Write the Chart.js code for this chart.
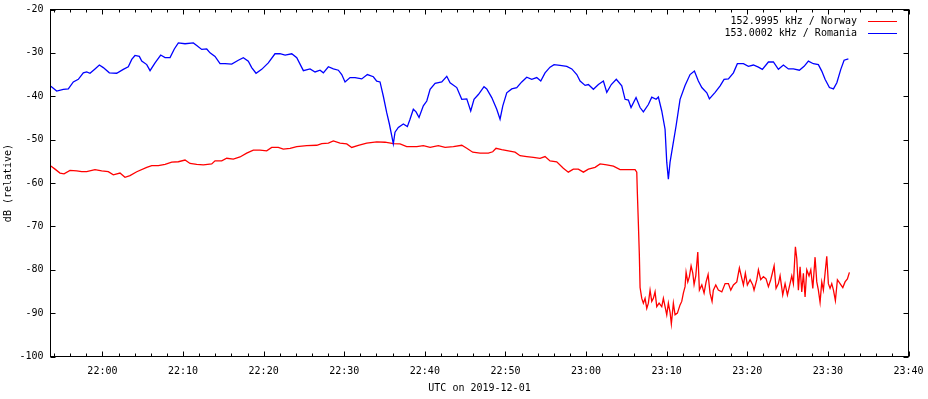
<!DOCTYPE html>
<html>
<head>
<meta charset="utf-8">
<script src="https://cdn.jsdelivr.net/npm/chart.js@4.4.1/dist/chart.umd.min.js"></script>
<style>
  html, body { margin: 0; padding: 0; background: #fff; }
  canvas { display: block; }
</style>
</head>
<body>
<canvas id="signal" width="928" height="399"></canvas>
<script>
// minutes after 22:00 UTC, dB (relative)
const norwayMin = [-6.4, -5.88, -5.26, -4.76, -4.02, -3.19, -2.57, -1.95, -0.92, -0.09, 0.73, 1.35, 2.18, 2.8, 3.42, 4.26, 5.5, 6.12, 6.94, 7.77,
  8.6, 9.42, 10.25, 10.87, 11.7, 12.52, 13.56, 13.97, 14.8, 15.42, 16.24, 17.07, 17.9, 18.72, 19.55, 20.38, 21.0, 21.82, 22.44, 23.28,
  24.11, 25.35, 26.59, 27.21, 28.03, 28.65, 29.48, 30.31, 30.93, 31.75, 32.79, 34.03, 35.06, 36.09, 36.92, 37.75, 39.0, 39.81, 40.65, 41.67,
  42.51, 43.54, 44.58, 45.2, 45.94, 46.85, 47.88, 48.42, 48.83, 49.54, 50.36, 51.19, 51.81, 52.64, 53.46, 54.29, 54.91, 55.53, 56.36, 57.18,
  57.8, 58.42, 59.04, 59.67, 60.29, 61.12, 61.74, 62.57, 63.39, 64.22, 65.25, 66.08, 66.29, 66.36, 66.49, 66.61, 66.7, 66.91, 67.11, 67.32,
  67.53, 67.73, 67.94, 68.15, 68.35, 68.56, 68.77, 69.06, 69.39, 69.59, 69.8, 70.01, 70.21, 70.42, 70.58, 70.83, 71.04, 71.33, 71.66, 71.87,
  72.07, 72.28, 72.41, 72.62, 72.82, 73.03, 73.24, 73.4, 73.61, 73.86, 74.06, 74.36, 74.64, 74.89, 75.14, 75.38, 75.63, 75.79, 76.09, 76.41,
  76.84, 77.25, 77.66, 77.95, 78.28, 78.7, 79.02, 79.32, 79.52, 79.76, 80.01, 80.35, 80.68, 80.84, 81.18, 81.38, 81.67, 82.0, 82.33, 82.62,
  82.91, 83.16, 83.33, 83.57, 83.86, 84.07, 84.4, 84.69, 84.98, 85.22, 85.52, 85.72, 85.97, 86.14, 86.34, 86.55, 86.76, 86.96, 87.17, 87.38,
  87.66, 87.88, 88.13, 88.41, 88.62, 88.82, 89.03, 89.24, 89.44, 89.65, 89.86, 90.06, 90.27, 90.48, 90.69, 90.93, 91.18, 91.51, 91.85, 92.13,
  92.42, 92.67];
const norwayDb = [-56.1, -56.8, -57.7, -57.9, -57.1, -57.2, -57.4, -57.4, -56.9, -57.2, -57.4, -58.1, -57.7, -58.7, -58.3, -57.4, -56.4, -56, -56, -55.7,
  -55.2, -55.1, -54.7, -55.5, -55.7, -55.8, -55.6, -54.9, -54.9, -54.3, -54.5, -54, -53.1, -52.4, -52.4, -52.6, -51.8, -51.8, -52.2, -52,
  -51.6, -51.4, -51.3, -50.9, -50.8, -50.3, -50.8, -51, -51.8, -51.3, -50.8, -50.5, -50.6, -50.9, -51, -51.6, -51.6, -51.4, -51.8, -51.4,
  -51.8, -51.6, -51.3, -52, -52.9, -53.1, -53.1, -52.8, -52, -52.3, -52.6, -52.9, -53.7, -53.9, -54.1, -54.3, -53.9, -54.9, -55.1, -56.6,
  -57.5, -56.8, -56.8, -57.5, -56.8, -56.4, -55.6, -55.8, -56.1, -56.9, -56.9, -56.9, -57.5, -62.1, -69.4, -76.6, -84.1, -86.6, -87.7, -86.6,
  -88.9, -87.7, -84.7, -87.3, -86.6, -85.1, -88.5, -87.7, -88.5, -86.6, -88.5, -90.4, -87.7, -89.8, -92.5, -87.7, -90.4, -90, -88.1, -87.3,
  -85.4, -83.9, -80.6, -82.8, -81.6, -79.1, -80.8, -83.4, -81.4, -75.9, -84.7, -83.5, -85.4, -82.8, -81.1, -85.4, -87.3, -84.7, -83.5, -84.7,
  -85.1, -83.2, -83.2, -84.7, -83.5, -82.8, -79.6, -82, -83.5, -80.8, -83.5, -82.3, -83.5, -84.7, -82.3, -80, -82.3, -81.6, -82.1, -83.9,
  -82.3, -80.4, -79.1, -84.3, -83.2, -81.4, -85.8, -83.2, -85.8, -83.9, -81.4, -83.2, -74.7, -77.4, -84.7, -79.3, -85.1, -80.8, -86.3, -80,
  -81.4, -80, -84.3, -77.1, -82.8, -84.7, -87.5, -82.8, -84.7, -80.8, -76.9, -83.2, -84.3, -83.2, -84.7, -87.1, -82.3, -83.2, -84.1, -82.8,
  -82.1, -80.6];

const romaniaMin = [-6.4, -5.67, -4.85, -4.23, -3.61, -2.99, -2.37, -1.95, -1.54, -0.92, -0.38, 0.11, 0.86, 1.77, 2.59, 3.21, 3.64, 4.04, 4.58, 4.88,
  5.5, 5.91, 6.53, 7.23, 7.77, 8.39, 8.92, 9.42, 10.25, 11.28, 11.7, 12.32, 12.94, 13.35, 13.97, 14.59, 15.21, 16.04, 16.86, 17.48,
  18.1, 18.52, 19.06, 19.76, 20.58, 21.41, 22.03, 22.66, 23.49, 24.11, 24.93, 25.76, 26.38, 27.0, 27.41, 28.03, 28.65, 29.27, 29.69, 30.1,
  30.72, 31.34, 32.17, 32.87, 33.61, 34.03, 34.44, 34.85, 35.27, 35.6, 35.89, 36.09, 36.3, 36.71, 37.33, 37.83, 38.16, 38.57, 38.91, 39.28,
  39.81, 40.24, 40.65, 41.27, 42.1, 42.72, 43.13, 43.96, 44.58, 45.2, 45.69, 46.1, 46.64, 47.34, 47.68, 48.3, 48.92, 49.33, 49.67, 50.16,
  50.78, 51.4, 52.02, 52.64, 53.26, 53.88, 54.38, 54.91, 55.53, 56.03, 56.77, 57.61, 58.23, 58.85, 59.26, 59.88, 60.29, 60.91, 61.53, 62.15,
  62.57, 63.13, 63.75, 64.43, 64.84, 65.25, 65.58, 66.2, 66.7, 67.11, 67.73, 68.15, 68.69, 68.97, 69.39, 69.8, 70.01, 70.21, 70.42, 70.76,
  71.17, 71.66, 72.28, 72.9, 73.44, 73.93, 74.36, 74.98, 75.3, 76.01, 76.63, 77.12, 77.66, 78.28, 78.77, 79.52, 80.14, 80.76, 81.38, 81.87,
  82.62, 83.24, 83.86, 84.48, 85.1, 85.72, 86.46, 87.05, 87.58, 88.2, 88.82, 89.24, 89.65, 90.19, 90.69, 91.11, 91.6, 92.01, 92.54];
const romaniaDb = [-37.7, -38.8, -38.4, -38.3, -36.7, -36.1, -34.6, -34.4, -34.7, -33.7, -32.8, -33.4, -34.6, -34.7, -33.8, -33.2, -31.5, -30.6, -30.8, -31.9,
  -32.7, -34.1, -32.3, -30.5, -31.1, -31.1, -29.1, -27.7, -27.9, -27.7, -28.3, -29.2, -29.1, -30, -30.8, -32.5, -32.5, -32.6, -31.7, -31.1,
  -31.9, -33.4, -34.7, -33.8, -32.3, -30.2, -30.2, -30.5, -30.2, -31.1, -34.1, -33.7, -34.4, -34, -34.6, -33.2, -33.7, -34, -35, -36.7,
  -35.7, -35.7, -36, -35, -35.5, -36.5, -36.7, -40, -43.8, -46.4, -49.1, -51, -48.3, -47.2, -46.4, -47, -45.3, -43, -43.6, -44.9,
  -42.2, -41.1, -38.4, -37, -36.7, -35.4, -36.9, -38, -40.7, -40.6, -43.4, -40.7, -39.6, -37.8, -38.3, -40.3, -43, -45.3, -42.2, -39.2,
  -38.3, -38, -36.7, -35.6, -36.1, -35.7, -36.5, -34.6, -33.3, -32.7, -32.9, -33.1, -33.7, -35, -36.5, -37.5, -37.3, -38.4, -37.3, -36.5,
  -39.1, -37.3, -36.1, -37.6, -40.7, -40.9, -42.6, -40.3, -42.6, -43.6, -41.9, -40.2, -40.7, -40.2, -43.4, -47.6, -55.2, -59.1, -55.2, -51.4,
  -46.8, -40.7, -37.5, -35, -34.2, -36.5, -38, -39.2, -40.6, -39.1, -37.6, -36.1, -36, -34.6, -32.5, -32.5, -33.1, -32.8, -33.3, -33.8,
  -32.1, -32.1, -33.8, -32.8, -33.7, -33.7, -34, -33.1, -31.9, -32.5, -32.7, -34.2, -36.1, -38, -38.3, -36.9, -33.8, -31.7, -31.4];

const seriesLabels = ['152.9995 kHz / Norway', '153.0002 kHz / Romania'];
const seriesColors = ['#ff0000', '#0000ff'];
const yTicks = [-100, -90, -80, -70, -60, -50, -40, -30, -20];

const FONT = '10px "DejaVu Sans Mono", "Liberation Mono", monospace';

function hhmm(m) {
  const t = 22 * 60 + Math.round(m);
  return String(Math.floor(t / 60)).padStart(2, '0') + ':' + String(t % 60).padStart(2, '0');
}

const pts = (xs, ys) => xs.map((x, i) => ({ x: x, y: ys[i] }));

// gnuplot-like frame, inward ticks, titles and legend
const gnuFrame = {
  id: 'gnuFrame',
  afterDraw(chart) {
    const { ctx, chartArea: a, scales: { x, y } } = chart;
    ctx.save();
    ctx.strokeStyle = '#000';
    ctx.lineWidth = 1;
    ctx.strokeRect(a.left, a.top, a.right - a.left, a.bottom - a.top);
    ctx.beginPath();
    for (let m = -6; m <= 100; m += 2) {
      const px = Math.round(x.getPixelForValue(m)) + 0.5;
      const len = m % 10 === 0 ? 5 : 3;
      ctx.moveTo(px, a.bottom); ctx.lineTo(px, a.bottom - len);
      ctx.moveTo(px, a.top); ctx.lineTo(px, a.top + len);
    }
    yTicks.forEach(v => {
      const py = Math.round(y.getPixelForValue(v)) + 0.5;
      ctx.moveTo(a.left, py); ctx.lineTo(a.left + 5, py);
      ctx.moveTo(a.right, py); ctx.lineTo(a.right - 5, py);
    });
    ctx.stroke();

    ctx.fillStyle = '#000';
    ctx.font = FONT;
    ctx.textBaseline = 'middle';
    ctx.textAlign = 'center';
    ctx.fillText('UTC on 2019-12-01', (a.left + a.right) / 2, 388);
    ctx.save();
    ctx.translate(8, (a.top + a.bottom) / 2);
    ctx.rotate(-Math.PI / 2);
    ctx.fillText('dB (relative)', 0, 0);
    ctx.restore();

    ctx.textAlign = 'right';
    chart.data.datasets.forEach((ds, i) => {
      const ly = 21 + i * 12;
      ctx.fillStyle = '#000';
      ctx.fillText(ds.label, 857, ly);
      ctx.strokeStyle = ds.borderColor;
      ctx.beginPath();
      ctx.moveTo(868, ly + 0.5);
      ctx.lineTo(897, ly + 0.5);
      ctx.stroke();
    });
    ctx.restore();
  }
};

new Chart(document.getElementById('signal'), {
  type: 'line',
  data: {
    datasets: [
      { label: seriesLabels[0], data: pts(norwayMin, norwayDb), borderColor: seriesColors[0], order: 1 },
      { label: seriesLabels[1], data: pts(romaniaMin, romaniaDb), borderColor: seriesColors[1], order: 0 }
    ]
  },
  options: {
    responsive: false,
    animation: false,
    devicePixelRatio: 1,
    parsing: false,
    elements: {
      point: { radius: 0 },
      line: { borderWidth: 1.3, tension: 0 }
    },
    layout: { padding: { left: 0, right: 19.5, top: 9.5, bottom: 0 } },
    plugins: { legend: { display: false }, tooltip: { enabled: false } },
    scales: {
      x: {
        type: 'linear',
        min: -6.44,
        max: 100,
        afterFit: s => { s.height = 42.5; s.paddingLeft = 0; s.paddingRight = 0; },
        grid: { display: false, drawTicks: false },
        border: { display: false },
        ticks: {
          stepSize: 10,
          includeBounds: false,
          autoSkip: false,
          maxRotation: 0,
          padding: 9,
          color: '#000',
          font: { family: '"DejaVu Sans Mono"', size: 10 },
          callback: v => hhmm(v)
        }
      },
      y: {
        min: -100,
        max: -20,
        afterFit: s => { s.width = 50.5; s.paddingTop = 0; s.paddingBottom = 0; },
        grid: { display: false, drawTicks: false },
        border: { display: false },
        ticks: {
          stepSize: 10,
          padding: 7,
          color: '#000',
          font: { family: '"DejaVu Sans Mono"', size: 10 }
        }
      }
    }
  },
  plugins: [gnuFrame]
});
</script>
</body>
</html>
